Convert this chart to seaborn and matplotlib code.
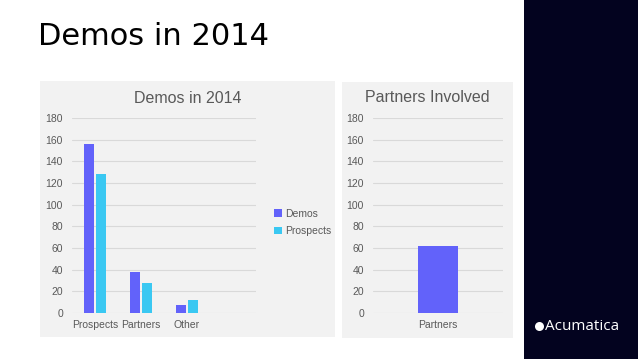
import matplotlib
matplotlib.use('Agg')
import matplotlib.pyplot as plt
import seaborn as sns
import pandas as pd
from matplotlib.patches import Rectangle
from matplotlib.lines import Line2D

# data
categories=['Prospects','Partners','Other']
demos=[156,38,7]
prospects=[128,28,12]
partner_cats=['Partners']
partner_vals=[62]
series_names=['Demos','Prospects']
colors=['#6262fa','#3ac8f2']
yticks=[0,20,40,60,80,100,120,140,160,180]

W,H=638,359
def fx(px): return px/W
def fy(py): return 1-py/H

sns.set_style('white')
plt.rcParams['font.family']=['Liberation Sans','DejaVu Sans']

df=pd.DataFrame({'cat':categories*2,
	'val':demos+prospects,
	'series':[series_names[0]]*3+[series_names[1]]*3})
df2=pd.DataFrame({'cat':partner_cats,'val':partner_vals})

fig=plt.figure(figsize=(W/100,H/100),dpi=100)
fig.patch.set_facecolor('white')

# panel backgrounds + dark side bar
fig.add_artist(Rectangle((fx(40),fy(337)),fx(335)-fx(40),fy(81)-fy(337),transform=fig.transFigure,facecolor='#f2f2f2',edgecolor='none',zorder=0))
fig.add_artist(Rectangle((fx(342),fy(338)),fx(513)-fx(342),fy(82)-fy(338),transform=fig.transFigure,facecolor='#f2f2f2',edgecolor='none',zorder=0))
fig.add_artist(Rectangle((fx(524),0),1-fx(524),1,transform=fig.transFigure,facecolor='#03031f',edgecolor='none',zorder=0))

fig.text(fx(38),fy(45),'Demos in 2014',fontsize=22,family='DejaVu Sans',color='black',va='baseline',ha='left')

tick_col='#595959'
def style(ax):
	ax.set_facecolor('none')
	ax.set_ylim(0,180)
	ax.set_yticks(yticks)
	ax.yaxis.grid(True,color='#d9d9d9',linewidth=0.8)
	ax.set_axisbelow(True)
	for s in ax.spines.values(): s.set_visible(False)
	ax.tick_params(axis='y',length=0,pad=6.5,labelsize=7.5,labelcolor=tick_col)
	ax.tick_params(axis='x',length=0,pad=5,labelsize=7.5,labelcolor=tick_col)
	ax.set_xlabel('');ax.set_ylabel('')

ax1=fig.add_axes([fx(72),fy(313),fx(256)-fx(72),fy(118)-fy(313)])
sns.barplot(data=df,x='cat',y='val',hue='series',palette=colors,width=0.5,gap=0.13,ax=ax1,saturation=1,linewidth=0)
ax1.set_xlim(-0.5,3.5)
style(ax1)
h,l=ax1.get_legend_handles_labels()
ax1.get_legend().remove()
fig.legend(h,l,loc='center left',bbox_to_anchor=(fx(269),fy(222.5)),bbox_transform=fig.transFigure,
	frameon=False,fontsize=7.5,handlelength=0.7,handleheight=0.7,handletextpad=0.3,labelspacing=0.75,borderpad=0,labelcolor=tick_col)
fig.text(fx(187.5),fy(98.5),'Demos in 2014',fontsize=11.5,color=tick_col,ha='center',va='center')

ax2=fig.add_axes([fx(373),fy(313),fx(503)-fx(373),fy(118)-fy(313)])
sns.barplot(data=df2,x='cat',y='val',color=colors[0],width=0.615,ax=ax2,saturation=1,linewidth=0)
ax2.set_xlim(-1,1)
style(ax2)
fig.text(fx(427),fy(97.5),'Partners Involved',fontsize=11.5,color=tick_col,ha='center',va='center')

# logo
fig.add_artist(Line2D([fx(538.5)],[fy(326)],transform=fig.transFigure,marker='o',markersize=6.5,color='white',markeredgewidth=0))
fig.text(fx(545),fy(326),'Acumatica',fontsize=11,family='Open Sans',color='white',ha='left',va='center')

plt.savefig('out.png',dpi=100)
plt.close()
